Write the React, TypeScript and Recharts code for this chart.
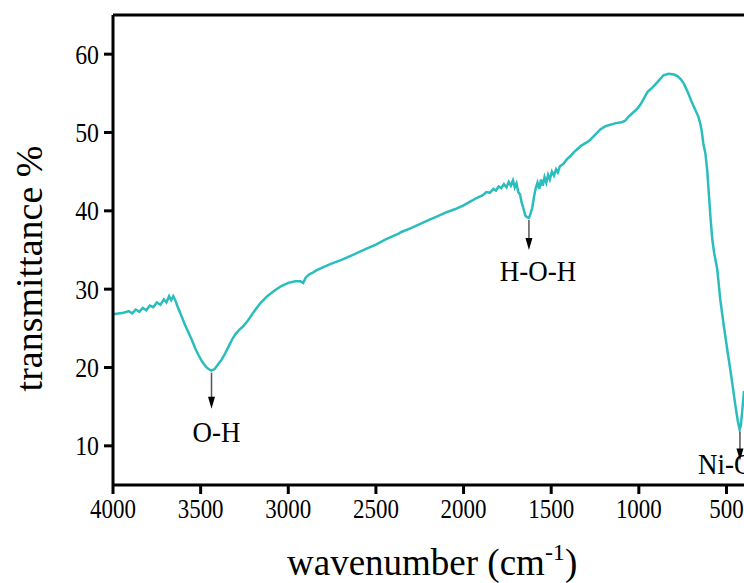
import { LineChart, Line, XAxis, YAxis, ReferenceLine, ReferenceDot } from "recharts";

// FTIR spectrum
const WAVENUMBER = [
  4000, 3970, 3940, 3910, 3890, 3870, 3850, 3830, 3810, 3790, 3770, 3750, 3730, 3710, 3695, 3680,
  3668, 3656, 3645, 3630, 3610, 3590, 3570, 3550, 3530, 3510, 3490, 3470, 3455, 3440, 3420, 3400,
  3380, 3360, 3340, 3320, 3300, 3280, 3260, 3230, 3200, 3160, 3120, 3080, 3040, 3000, 2960, 2930,
  2915, 2900, 2880, 2860, 2840, 2800, 2750, 2700, 2650, 2600, 2550, 2500, 2450, 2400, 2370, 2355,
  2300, 2250, 2200, 2150, 2100, 2050, 2000, 1960, 1920, 1890, 1870, 1850, 1830, 1815, 1800, 1785,
  1770, 1755, 1742, 1730, 1718, 1708, 1698, 1688, 1678, 1668, 1658, 1648, 1638, 1627, 1618, 1608,
  1598, 1588, 1578, 1568, 1558, 1548, 1538, 1528, 1518, 1508, 1496, 1484, 1472, 1462, 1450, 1430,
  1410, 1390, 1370, 1350, 1330, 1300, 1280, 1250, 1220, 1190, 1160, 1130, 1100, 1078, 1060, 1040,
  1010, 990, 970, 950, 920, 895, 875, 860, 830, 800, 780, 760, 745, 730, 718, 700,
  678, 660, 650, 640, 632, 620, 610, 600, 590, 580, 570, 553, 535, 515, 495, 480,
  467, 450, 435, 425, 418, 410, 400,
];
const TRANSMITTANCE = [
  26.8, 26.9, 27.0, 27.2, 26.9, 27.4, 27.1, 27.6, 27.3, 27.9, 27.7, 28.3, 28.0, 28.7, 28.3, 29.1,
  28.6, 29.1, 28.6, 27.7, 26.6, 25.5, 24.5, 23.5, 22.4, 21.5, 20.7, 20.1, 19.8, 19.6, 19.8, 20.4,
  21.0, 21.8, 22.7, 23.6, 24.3, 24.8, 25.2, 26.0, 27.0, 28.2, 29.1, 29.8, 30.4, 30.8, 31.0, 31.0,
  30.8, 31.5, 31.9, 32.1, 32.4, 32.8, 33.3, 33.7, 34.2, 34.7, 35.2, 35.7, 36.3, 36.8, 37.1, 37.3,
  37.8, 38.3, 38.8, 39.3, 39.8, 40.2, 40.7, 41.2, 41.7, 42.0, 42.4, 42.3, 42.8, 42.6, 43.1, 42.9,
  43.4, 43.0, 43.7, 43.2, 43.9, 43.0, 43.5, 42.4, 42.1, 41.0, 40.3, 39.4, 39.2, 39.1, 39.6, 40.4,
  41.8, 42.9, 43.6, 42.8, 44.0, 43.2, 44.3, 43.6, 44.6, 44.0, 45.0, 44.5, 45.3, 44.9, 45.7, 46.0,
  46.6, 47.0, 47.5, 47.9, 48.3, 48.7, 49.0, 49.7, 50.4, 50.8, 51.0, 51.2, 51.3, 51.5, 52.0, 52.4,
  53.0, 53.6, 54.4, 55.2, 55.8, 56.4, 56.9, 57.3, 57.5, 57.4, 57.2, 56.8, 56.3, 55.6, 55.0, 54.0,
  52.9, 52.0, 51.2, 50.0, 48.6, 47.3, 45.2, 42.0, 38.8, 36.2, 34.6, 32.6, 28.6, 25.3, 22.2, 20.0,
  18.0, 15.3, 13.1, 12.1, 12.6, 14.5, 17.0,
];

const X_TICKS = [4000, 3500, 3000, 2500, 2000, 1500, 1000, 500];
const Y_TICKS = [10, 20, 30, 40, 50, 60];

const PEAK_LABELS = ["O-H", "H-O-H", "Ni-O"];
const PEAK_X = [3438, 1627, 423];
const PEAK_Y = [19.6, 39.1, 12.1];

const data = WAVENUMBER.map((x, i) => ({ x, t: TRANSMITTANCE[i] }));

const FONT = "'Liberation Serif', 'Times New Roman', serif";
const LINE_COLOR = "#2bbdbd";

// arrow length / text offset per peak (pixels)
const peakLayout = [
  { arrow: 37, dx: 5, dy: 71, anchor: "middle" },
  { arrow: 31, dx: 9, dy: 63, anchor: "middle" },
  { arrow: 30, dx: -42, dy: 45, anchor: "start" },
];

function PeakMark(props: any) {
  const { cx, cy, idx } = props;
  const l = peakLayout[idx];
  const tip = cy + 1 + l.arrow;
  return (
    <g>
      <line x1={cx} y1={cy + 2} x2={cx} y2={tip - 10} stroke="#555" strokeWidth={1.5} />
      <polygon points={`${cx - 3.5},${tip - 12} ${cx + 3.5},${tip - 12} ${cx},${tip}`} fill="#000" />
      <text
        transform={`translate(${cx + l.dx},${cy + l.dy}) scale(0.93,1)`}
        textAnchor={l.anchor}
        fontFamily={FONT}
        fontSize={29}
        fill="#000"
      >
        {PEAK_LABELS[idx]}
      </text>
    </g>
  );
}

function XTick({ x, y, payload }: any) {
  return (
    <text
      transform={`translate(${x},${y + 20}) scale(0.82,1)`}
      textAnchor="middle"
      fontFamily={FONT}
      fontSize={28}
      fill="#000"
    >
      {payload.value}
    </text>
  );
}

function YTick({ x, y, payload }: any) {
  return (
    <text
      transform={`translate(${x},${y + 9.5}) scale(0.85,1)`}
      textAnchor="end"
      fontFamily={FONT}
      fontSize={28}
      fill="#000"
    >
      {payload.value}
    </text>
  );
}

export default function App() {
  return (
    <div style={{ width: 736, height: 575, overflow: "hidden", padding: "8px 0 0 8px" }}>
      <style>{"body{margin:0;overflow:hidden}"}</style>
      <LineChart
        width={736}
        height={575}
        data={data}
        margin={{ top: 7, right: 0, left: 45, bottom: 38 }}
      >
        <XAxis
          dataKey="x"
          type="number"
          domain={[400, 4000]}
          reversed
          ticks={X_TICKS}
          interval={0}
          height={60}
          tickSize={9}
          tickMargin={4}
          axisLine={{ stroke: "#000", strokeWidth: 3 }}
          tickLine={{ stroke: "#000", strokeWidth: 3 }}
          tick={<XTick />}
          label={{
            content: () => (
              <text x={279} y={567} fontFamily={FONT} fontSize={37} fill="#000">
                wavenumber (cm
                <tspan dy={-15} fontSize={24}>-1</tspan>
                <tspan dy={15}>)</tspan>
              </text>
            ),
          }}
        />
        <YAxis
          type="number"
          domain={[5, 65]}
          ticks={Y_TICKS}
          interval={0}
          width={60}
          tickSize={9}
          tickMargin={5}
          axisLine={{ stroke: "#000", strokeWidth: 3 }}
          tickLine={{ stroke: "#000", strokeWidth: 3 }}
          tick={<YTick />}
          label={{
            content: () => (
              <text
                transform="translate(34,260.5) rotate(-90)"
                textAnchor="middle"
                fontFamily={FONT}
                fontSize={38}
                fill="#000"
              >
                transmittance %
              </text>
            ),
          }}
        />
        <ReferenceLine y={65} stroke="#000" strokeWidth={3} />
        <Line
          type="linear"
          dataKey="t"
          stroke={LINE_COLOR}
          strokeWidth={2.5}
          dot={false}
          isAnimationActive={false}
        />
        {PEAK_LABELS.map((name, i) => (
          <ReferenceDot
            key={name}
            x={PEAK_X[i]}
            y={PEAK_Y[i]}
            r={0}
            shape={(p: any) => <PeakMark {...p} idx={i} />}
          />
        ))}
      </LineChart>
    </div>
  );
}
